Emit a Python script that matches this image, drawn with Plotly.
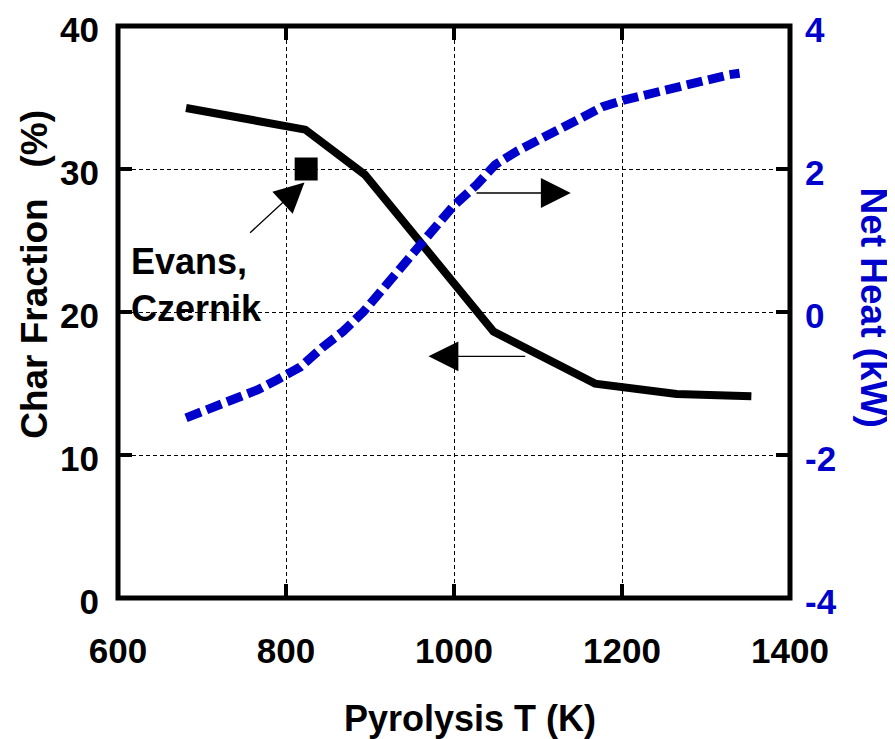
import plotly.graph_objects as go

# ---- data ----
char_T = [681, 823, 894, 1047, 1168, 1265, 1354]
char_frac = [34.27, 32.75, 29.6, 18.64, 14.99, 14.27, 14.1]

heat_T = [681, 714, 742, 766, 789, 817, 843, 868, 892, 914, 960, 999, 1027,
          1049, 1075, 1100, 1126, 1150, 1177, 1201, 1227, 1253, 1278, 1303, 1328, 1340]
heat_kW = [-1.48, -1.34, -1.21, -1.09, -0.95, -0.77, -0.50, -0.27, 0.0, 0.31, 0.92, 1.48, 1.78,
           2.06, 2.25, 2.41, 2.57, 2.73, 2.87, 2.96, 3.04, 3.11, 3.19, 3.25, 3.32, 3.34]

evans_T = [824]
evans_frac = [30.0]

x_ticks = [600, 800, 1000, 1200, 1400]
y_ticks = [0, 10, 20, 30, 40]
y2_ticks = [-4, -2, 0, 2, 4]
y2_labels = ["-4", "-2", "0", "2", "4"]

BLUE = "#0000CC"
FONT = "Liberation Sans, Arial, sans-serif"

fig = go.Figure()
fig.add_trace(go.Scatter(x=char_T, y=char_frac, mode="lines",
                         line=dict(color="black", width=8), yaxis="y", showlegend=False))
fig.add_trace(go.Scatter(x=evans_T, y=evans_frac, mode="markers",
                         marker=dict(symbol="square", size=23, color="black"),
                         yaxis="y", showlegend=False))
fig.add_trace(go.Scatter(x=heat_T, y=heat_kW, mode="lines",
                         line=dict(color=BLUE, width=9, dash="16px,6px"),
                         yaxis="y2", showlegend=False))

tickf = dict(family=FONT, size=35, color="black", weight="bold")

# the page body adds an 8px offset, so the figure is made 8px smaller
fig.update_layout(
    width=887, height=731,
    margin=dict(l=110, r=105, t=18, b=141),
    paper_bgcolor="white", plot_bgcolor="white",
    xaxis=dict(range=[600, 1400], tickvals=x_ticks, showgrid=True, automargin=False,
               gridcolor="black", gridwidth=1, griddash="4px,3px",
               showline=False, zeroline=False,
               ticks="inside", ticklen=14, tickwidth=4, tickcolor="black",
               mirror="ticks", tickfont=tickf, ticklabelstandoff=29,
               ticklabeloverflow="allow"),
    yaxis=dict(range=[0, 40], tickvals=y_ticks, showgrid=True, automargin=False,
               gridcolor="black", gridwidth=1, griddash="4px,3px",
               showline=False, zeroline=False,
               ticks="inside", ticklen=14, tickwidth=4, tickcolor="black",
               tickfont=tickf, ticklabelstandoff=18, ticklabelshift=4,
               ticklabeloverflow="allow"),
    yaxis2=dict(range=[-4, 4], tickvals=y2_ticks, ticktext=y2_labels, overlaying="y", side="right",
                showgrid=False, showline=False, zeroline=False, automargin=False,
                ticks="inside", ticklen=14, tickwidth=4, tickcolor="black",
                tickfont=dict(family=FONT, size=35, color=BLUE, weight="bold"),
                ticklabelstandoff=14, ticklabelshift=4, ticklabeloverflow="allow"),
    shapes=[dict(type="rect", xref="paper", yref="paper", x0=0, x1=1, y0=0, y1=1,
                 line=dict(color="black", width=5), layer="above")],
)

fig.add_annotation(text="Pyrolysis T (K)", xref="paper", yref="paper", x=0.524, y=-0.21,
                   showarrow=False, font=dict(family=FONT, size=36, color="black", weight="bold"),
                   xanchor="center", yanchor="middle")
fig.add_annotation(text="Char Fraction\u00a0\u00a0\u00a0(%)", xref="paper", yref="paper", x=-0.1235, y=0.565,
                   showarrow=False, font=dict(family=FONT, size=37, color="black", weight="bold"),
                   textangle=-90, xanchor="center", yanchor="middle")
fig.add_annotation(text="Net Heat (kW)", xref="paper", yref="paper", x=1.125, y=0.508,
                   showarrow=False, font=dict(family=FONT, size=37, color=BLUE, weight="bold"),
                   textangle=90, xanchor="center", yanchor="middle")
fig.add_annotation(text="Evans,<br>Czernik", xref="x", yref="y", x=613, y=21.9,
                   showarrow=False, font=dict(family=FONT, size=36, color="black", weight="bold"),
                   xanchor="left", yanchor="middle", align="left")

# arrows
arrow_common = dict(showarrow=True, arrowhead=2, arrowwidth=1.3, arrowsize=4.6,
                    arrowcolor="black", text="", xref="x", yref="y", axref="x", ayref="y")
fig.add_annotation(x=822, y=29.06, ax=755.5, ay=25.45, **arrow_common)
fig.add_annotation(x=1139, y=28.32, ax=1025, ay=28.32, **arrow_common)
fig.add_annotation(x=969.6, y=16.9, ax=1086.6, ay=16.9, **arrow_common)

fig.write_html("out.html")
